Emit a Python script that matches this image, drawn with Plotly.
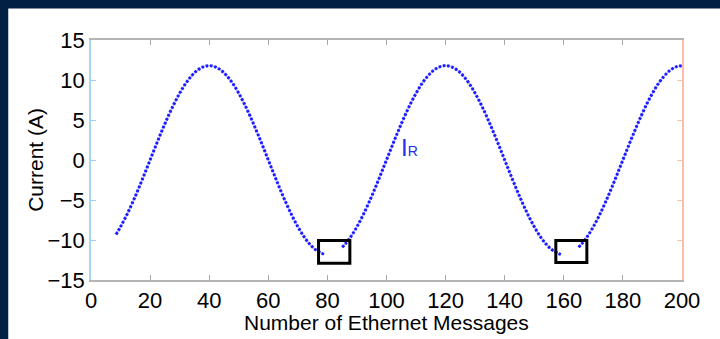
import plotly.graph_objects as go

# Message numbers (x) and current values (A); None marks missing messages
x_seg1 = [8.5] + list(range(10, 80, 2)) + [79]
y_seg1 = [-9.3, -8.34, -6.94, -5.36, -3.65, -1.85, 0, 1.85, 3.65, 5.36, 6.94, 8.34, 9.55,
          10.51, 11.22, 11.65, 11.8, 11.65, 11.22, 10.51, 9.55, 8.34, 6.94, 5.36, 3.65,
          1.85, 0, -1.85, -3.65, -5.36, -6.94, -8.34, -9.55, -10.51, -11.22, -11.65, -11.8]
x_seg2 = [85] + list(range(86, 160, 2)) + [159]
y_seg2 = [-10.9, -10.51, -9.55, -8.34, -6.94, -5.36, -3.65, -1.85, 0, 1.85, 3.65, 5.36,
          6.94, 8.34, 9.55, 10.51, 11.22, 11.65, 11.8, 11.65, 11.22, 10.51, 9.55, 8.34,
          6.94, 5.36, 3.65, 1.85, 0, -1.85, -3.65, -5.36, -6.94, -8.34, -9.55, -10.51,
          -11.22, -11.65, -11.8]
x_seg3 = [165] + list(range(166, 202, 2))
y_seg3 = [-10.9, -10.51, -9.55, -8.34, -6.94, -5.36, -3.65, -1.85, 0, 1.85, 3.65, 5.36,
          6.94, 8.34, 9.55, 10.51, 11.22, 11.65, 11.8]

x_vals = x_seg1 + [None] + x_seg2 + [None] + x_seg3
y_vals = y_seg1 + [None] + y_seg2 + [None] + y_seg3

x_ticks = [0, 20, 40, 60, 80, 100, 120, 140, 160, 180, 200]
y_ticks = [-15, -10, -5, 0, 5, 10, 15]

# Highlight boxes around lost messages: (x0, x1, y0, y1)
boxes = [(77.0, 87.6, -12.9, -10.05), (157.3, 167.8, -12.8, -10.05)]

label_text = "I<span style='font-size:14px'>R</span>"
label_pos = (104.3, 1.6)

x_title = "Number of Ethernet Messages"
y_title = "Current (A)"

NAVY = "#021f44"
FONT = "Liberation Sans, Arial, sans-serif"

fig = go.Figure()
fig.add_trace(go.Scatter(x=x_vals, y=y_vals, mode="lines", line=dict(color="rgba(120,120,255,0.6)", width=1.4, shape="spline"),
                         connectgaps=False, hoverinfo="skip", showlegend=False))
fig.add_trace(go.Scatter(x=x_vals, y=y_vals, mode="lines", line=dict(color="#1a1aff", width=3, shape="spline", dash="2.5px,1.8px"),
                         connectgaps=False, showlegend=False))
fig.add_trace(go.Scatter(x=x_vals, y=y_vals, mode="lines", line=dict(width=0), yaxis="y2",
                         hoverinfo="skip", showlegend=False, opacity=0))

shapes = [dict(type="rect", xref="paper", yref="paper", x0=-0.14, x1=1.3, y0=-0.5, y1=1.131,
               fillcolor="white", line=dict(width=0), layer="below")]
for (x0, x1, y0, y1) in boxes:
    shapes.append(dict(type="rect", xref="x", yref="y", x0=x0, x1=x1, y0=y0, y1=y1,
                       line=dict(color="black", width=3), fillcolor="rgba(0,0,0,0)"))

fig.update_layout(
    width=720, height=339,
    margin=dict(l=91, r=38, t=40, b=59, autoexpand=False),
    paper_bgcolor=NAVY, plot_bgcolor="white",
    font=dict(family=FONT, color="black", size=22),
    shapes=shapes,
    showlegend=False,
    xaxis=dict(range=[0, 200], tickvals=x_ticks, ticks="inside", ticklen=5, tickcolor="#a8a8a8", automargin=False,
               showline=True, linecolor="#b4b4b4", linewidth=1.5, mirror="ticks", showgrid=False, zeroline=False,
               tickfont=dict(size=22)),
    yaxis=dict(range=[-15, 15], tickvals=y_ticks, ticks="inside", ticklen=5, tickcolor="#9fd0f0", automargin=False,
               showline=True, linecolor="#a6d6f4", linewidth=1.5, showgrid=False, zeroline=False,
               tickfont=dict(size=22)),
    yaxis2=dict(range=[-15, 15], tickvals=y_ticks, overlaying="y", side="right", ticks="inside", ticklen=5,
                tickcolor="#f8c0a8", showline=True, linecolor="#f8c0a8", linewidth=1.5, showticklabels=False,
                showgrid=False, zeroline=False, automargin=False),
    annotations=[
        dict(x=label_pos[0], y=label_pos[1], xref="x", yref="y", text=label_text, showarrow=False,
             xanchor="left", yanchor="middle", font=dict(size=24, color="#2a2aee", family=FONT)),
        dict(x=0.5, y=-0.12, xref="paper", yref="paper", text=x_title, showarrow=False,
             xanchor="center", yanchor="top", font=dict(size=21)),
        dict(x=-0.095, y=0.5, xref="paper", yref="paper", text=y_title, showarrow=False, textangle=-90,
             xanchor="center", yanchor="middle", font=dict(size=21)),
    ],
)

fig.write_html("out.html", config={"displayModeBar": False},
               post_script="document.body.style.margin='0';document.body.style.overflow='hidden';")
